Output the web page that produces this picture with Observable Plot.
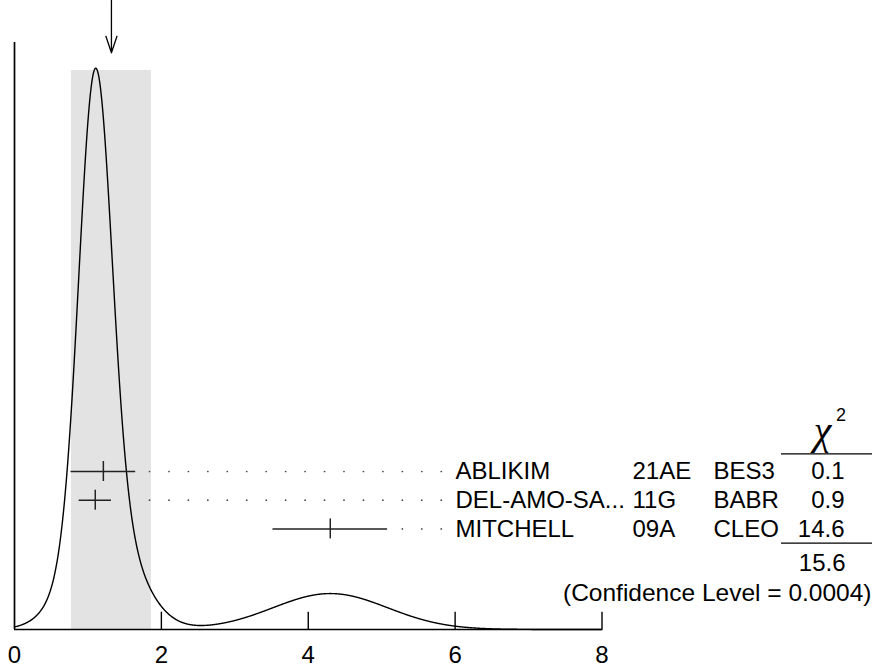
<!DOCTYPE html>
<html><head><meta charset="utf-8">
<script src="https://cdn.jsdelivr.net/npm/d3@7"></script>
<script src="https://cdn.jsdelivr.net/npm/@observablehq/plot@0.6"></script>
<style>body{margin:0;background:#fff} svg{display:block}</style>
</head><body><div id="chart"></div>
<script>
// ---- data ----
const authors = ["ABLIKIM", "DEL-AMO-SA...", "MITCHELL"];
const docIds = ["21AE", "11G", "09A"];
const experiments = ["BES3", "BABR", "CLEO"];
const values = [1.21, 1.10, 4.30];
const errors = [0.44, 0.22, 0.78];
const chi2Labels = ["0.1", "0.9", "14.6"];
const chi2Total = "15.6";
const confidenceLevel = "0.0004";
const average = 1.32;
const averageError = 0.545;
const xTicks = [0, 2, 4, 6, 8];

// ---- layout ----
const W = 872, H = 666, ML = 14, MR = 270.5, MT = 42, MB = 37;
const XMAX = 8;
const px = X => (X - ML) / (W - ML - MR) * XMAX; // pixel column -> x units
const py = Y => H - MB - Y;                        // pixel row -> y units (px above baseline)
const rowY = i => py(471 + 28.7 * i);
const FONT = "Liberation Sans, Arial, Helvetica, sans-serif";

// ---- ideogram: each measurement a Gaussian with area ∝ 1/error ----
const xs = d3.range(0, XMAX + 1e-9, 0.005);
const raw = xs.map(x => d3.sum(values, (v, i) => Math.exp(-((x - v) ** 2) / (2 * errors[i] ** 2)) / errors[i] ** 2));
const peak = d3.max(raw);
const PEAK_H = 561.3;
const curve = xs.map((x, i) => ({x, y: raw[i] / peak * PEAK_H}));

const rows = authors.map((a, i) => ({
  i, author: a, doc: docIds[i], exp: experiments[i], v: values[i], e: errors[i], chi: chi2Labels[i], y: rowY(i)
}));

// dotted leaders on a fixed grid
const gridStart = px(149), gridStep = 19.45 / (W - ML - MR) * XMAX, gridEnd = px(443);
const leaderDots = [];
rows.forEach(r => {
  const from = Math.max(r.v + r.e + 0.1, average + averageError - 0.05);
  for (let g = gridStart; g <= gridEnd; g += gridStep) if (g >= from) leaderDots.push({x: g, y: r.y});
});

const tickHalf = 10;

const chart = Plot.plot({
  width: W, height: H,
  marginLeft: ML, marginRight: MR, marginTop: MT, marginBottom: MB,
  x: {domain: [0, XMAX], axis: null},
  y: {domain: [0, H - MT - MB], axis: null},
  style: {fontFamily: FONT, background: "#fff", color: "#000"},
  marks: [
    // average band
    Plot.rect([{x1: average - averageError, x2: average + averageError}],
      {x1: "x1", x2: "x2", y1: 0, y2: py(70), fill: "#e3e3e3"}),
    // ideogram
    Plot.line(curve, {x: "x", y: "y", stroke: "#000", strokeWidth: 1.4}),
    // axes
    Plot.ruleX([0], {y1: 0, y2: py(42), stroke: "#000", strokeWidth: 1.7}),
    Plot.ruleY([0], {x1: 0, x2: XMAX, stroke: "#000", strokeWidth: 1.7}),
    Plot.ruleX(xTicks.filter(t => t > 0), {y1: 0, y2: 17.3, stroke: "#000", strokeWidth: 1.4}),
    Plot.text(xTicks, {x: d => d, frameAnchor: "bottom", lineAnchor: "bottom", dy: 33,
      text: d => String(d), fontSize: 24, fill: "#000"}),
    // arrow at the average
    Plot.arrow([average], {x1: d => d, x2: d => d, y1: py(0), y2: py(52.3),
      headAngle: 37, headLength: 22, stroke: "#000", strokeWidth: 1.3}),
    // leaders
    Plot.dot(leaderDots, {x: "x", y: "y", r: 0.85, fill: "#444", stroke: "none"}),
    // error bars
    Plot.ruleY(rows, {y: "y", x1: d => d.v - d.e, x2: d => d.v + d.e, stroke: "#222", strokeWidth: 1.5}),
    Plot.ruleX(rows, {x: "v", y1: d => d.y - tickHalf, y2: d => d.y + tickHalf, stroke: "#222", strokeWidth: 1.5}),
    // labels
    Plot.text(rows, {x: () => px(455), y: "y", text: "author", textAnchor: "start", fontSize: 24, fill: "#000"}),
    Plot.text(rows, {x: () => px(632), y: "y", text: "doc", textAnchor: "start", fontSize: 24, fill: "#000"}),
    Plot.text(rows, {x: () => px(713), y: "y", text: "exp", textAnchor: "start", fontSize: 24, fill: "#000"}),
    Plot.text(rows, {x: () => px(844), y: "y", text: "chi", textAnchor: "end", fontSize: 24, fill: "#000"}),
    // chi-square header and separators
    Plot.text(["χ"], {x: () => px(822), y: () => py(443), text: d => d, textAnchor: "middle", lineAnchor: "bottom",
      fontSize: 40, fontFamily: "Liberation Serif, Times New Roman, serif", fontStyle: "italic", fill: "#000"}),
    Plot.text(["2"], {x: () => px(835.5), y: () => py(420.7), text: d => d, textAnchor: "start", lineAnchor: "bottom",
      fontSize: 18, fill: "#000"}),
    Plot.ruleY([py(453.3), py(542.7)], {y: d => d, x1: px(781), x2: px(872), stroke: "#000", strokeWidth: 1.3}),
    Plot.text([chi2Total], {x: () => px(845), y: () => py(563), text: d => d, textAnchor: "end", fontSize: 24, fill: "#000"}),
    Plot.text([confidenceLevel], {x: () => px(871), y: () => py(593), text: d => `(Confidence Level = ${d})`,
      textAnchor: "end", fontSize: 24.5, fill: "#000"})
  ]
});
document.getElementById("chart").appendChild(chart);
</script>
</body></html>
